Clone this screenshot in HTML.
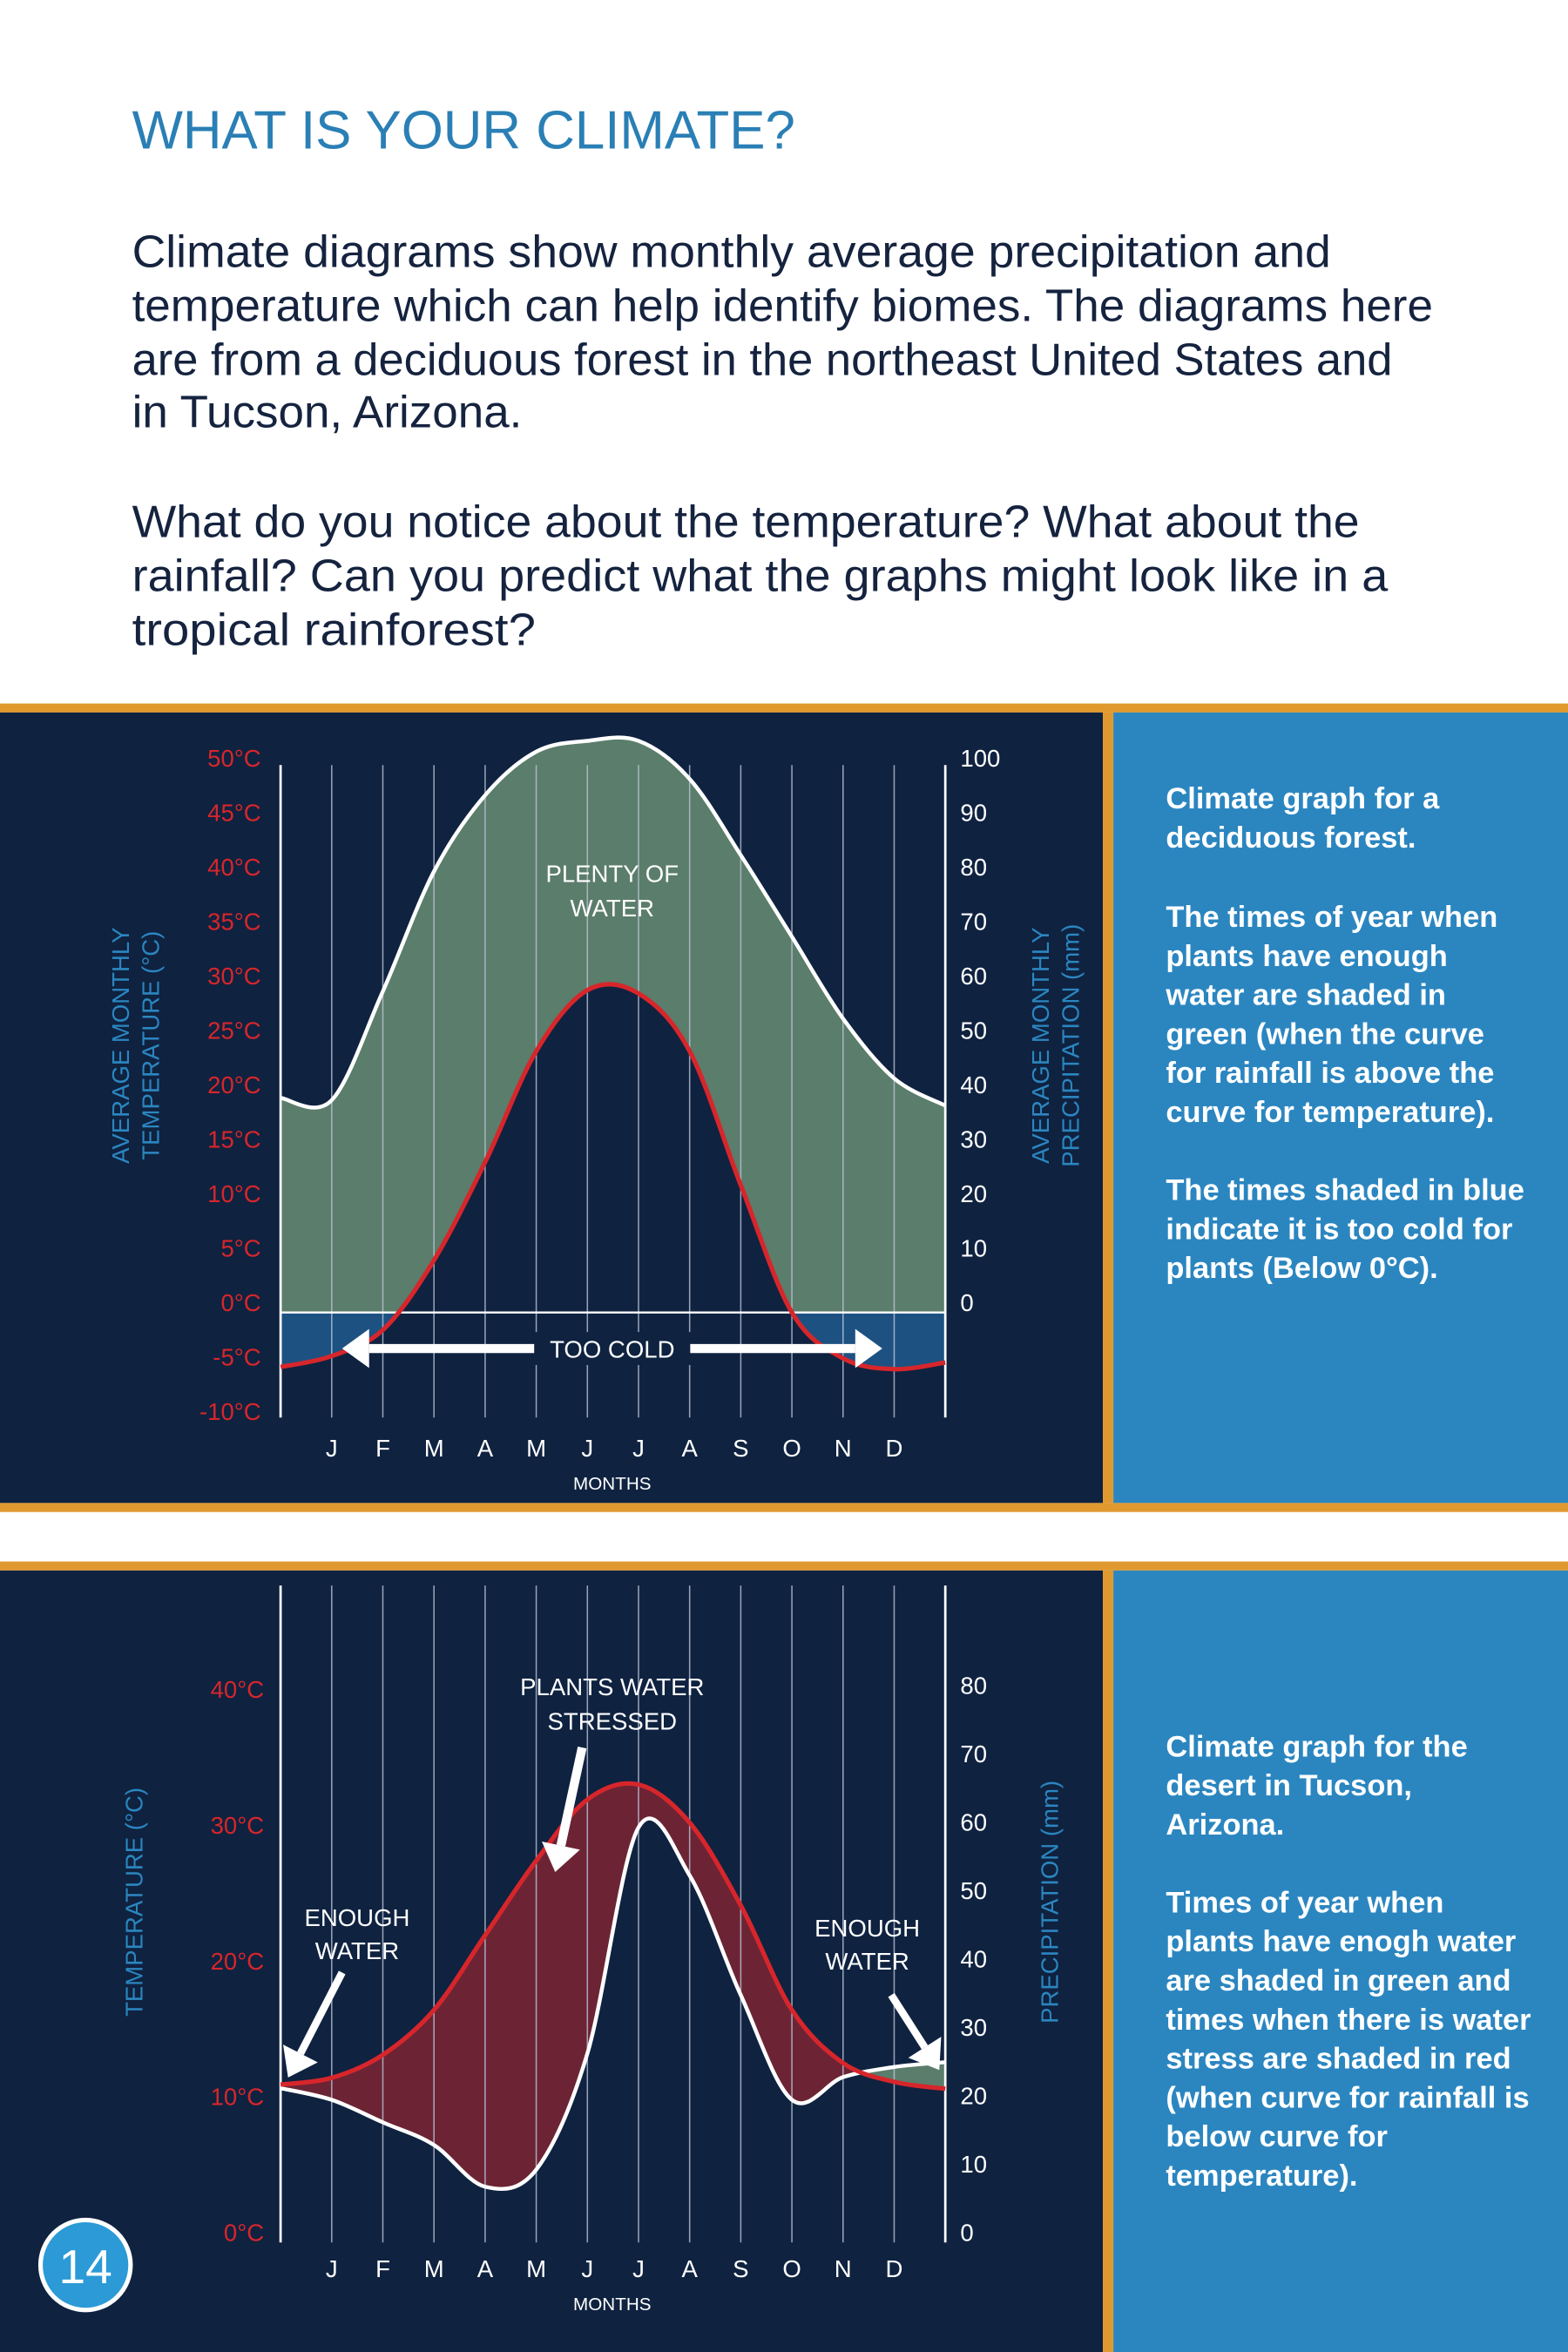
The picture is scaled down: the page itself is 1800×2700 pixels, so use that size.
<!DOCTYPE html>
<html><head><meta charset="utf-8"><style>
html,body{margin:0;padding:0;background:#fff;width:1800px;height:2700px;overflow:hidden;}
svg{display:block;}
text{font-family:"Liberation Sans","DejaVu Sans",sans-serif;}
</style></head><body>
<svg id="page" width="1800" height="2700" viewBox="0 0 1045 1568" preserveAspectRatio="none" xmlns="http://www.w3.org/2000/svg">
<rect x="0" y="0" width="1045" height="1568" fill="#ffffff"/>
<text x="88" y="99" font-size="36" fill="#2a7fb5" textLength="442" lengthAdjust="spacingAndGlyphs">WHAT IS YOUR CLIMATE?</text>
<g font-size="30" fill="#15233f">
<text x="88" y="178" textLength="799" lengthAdjust="spacingAndGlyphs">Climate diagrams show monthly average precipitation and</text>
<text x="88" y="214" textLength="867" lengthAdjust="spacingAndGlyphs">temperature which can help identify biomes. The diagrams here</text>
<text x="88" y="250" textLength="840" lengthAdjust="spacingAndGlyphs">are from a deciduous forest in the northeast United States and</text>
<text x="88" y="285" textLength="260" lengthAdjust="spacingAndGlyphs">in Tucson, Arizona.</text>
<text x="88" y="358" textLength="818" lengthAdjust="spacingAndGlyphs">What do you notice about the temperature? What about the</text>
<text x="88" y="394" textLength="837" lengthAdjust="spacingAndGlyphs">rainfall? Can you predict what the graphs might look like in a</text>
<text x="88" y="430" textLength="269" lengthAdjust="spacingAndGlyphs">tropical rainforest?</text>
</g>
<rect x="0" y="469" width="1045" height="6" fill="#e0992f"/>
<rect x="0" y="475" width="735" height="527" fill="#0f2240"/>
<rect x="735" y="475" width="7" height="527" fill="#e0992f"/>
<rect x="742" y="475" width="303" height="527" fill="#2b86c0"/>
<rect x="0" y="1002" width="1045" height="6" fill="#e0992f"/>
<rect x="0" y="1041" width="1045" height="6" fill="#e0992f"/>
<rect x="0" y="1047" width="735" height="521" fill="#0f2240"/>
<rect x="735" y="1047" width="7" height="521" fill="#e0992f"/>
<rect x="742" y="1047" width="303" height="521" fill="#2b86c0"/>

<g font-size="20" font-weight="bold" fill="#ffffff">
<text x="777" y="539">Climate graph for a</text>
<text x="777" y="565">deciduous forest.</text>
<text x="777" y="618">The times of year when</text>
<text x="777" y="644">plants have enough</text>
<text x="777" y="670">water are shaded in</text>
<text x="777" y="696">green (when the curve</text>
<text x="777" y="722">for rainfall is above the</text>
<text x="777" y="748">curve for temperature).</text>
<text x="777" y="800">The times shaded in blue</text>
<text x="777" y="826">indicate it is too cold for</text>
<text x="777" y="852">plants (Below 0°C).</text>
</g>
<g font-size="20" font-weight="bold" fill="#ffffff">
<text x="777" y="1171">Climate graph for the</text>
<text x="777" y="1197">desert in Tucson,</text>
<text x="777" y="1223">Arizona.</text>
<text x="777" y="1275">Times of year when</text>
<text x="777" y="1301">plants have enogh water</text>
<text x="777" y="1327">are shaded in green and</text>
<text x="777" y="1353">times when there is water</text>
<text x="777" y="1379">stress are shaded in red</text>
<text x="777" y="1405">(when curve for rainfall is</text>
<text x="777" y="1431">below curve for</text>
<text x="777" y="1457">temperature).</text>
</g>

<g id="chart1"></g>
<g id="chart2"></g>

<g>
<circle cx="57" cy="1510" r="30" fill="#2b9ad6" stroke="#ffffff" stroke-width="3"/>
<text x="57" y="1522" font-size="32" fill="#ffffff" text-anchor="middle">14</text>
</g>
</svg>
<script>
const months = ['J','F','M','A','M','J','J','A','S','O','N','D'];
// chart 1 (deciduous)
const c1Temp = [-4, -1.6, 4.8, 13.8, 24, 29.6, 29.3, 24, 11.7, 0, -4.2, -5.2];
const c1TempEdges = [-5, -4.6];
const c1Precip = [39, 59, 81, 95, 103, 105, 105, 98, 84, 69, 54, 43];
const c1PrecipEdges = [39.4, 38];
const c1TempTicks = [-10, -5, 0, 5, 10, 15, 20, 25, 30, 35, 40, 45, 50];
const c1PrecipTicks = [0, 10, 20, 30, 40, 50, 60, 70, 80, 90, 100];
// chart 2 (desert)
const c2Temp = [11.8, 13.5, 16.8, 22.3, 27.8, 32.3, 33.4, 30.6, 24.5, 16.8, 12.9, 11.5];
const c2TempEdges = [11.3, 11];
const c2Precip = [20.2, 16.9, 13.6, 7.5, 10, 27, 60, 53, 35.5, 20.2, 23.5, 25];
const c2PrecipEdges = [21.9, 25.7];
const c2TempTicks = [0, 10, 20, 30, 40];
const c2PrecipTicks = [0, 10, 20, 30, 40, 50, 60, 70, 80];

const NS = 'http://www.w3.org/2000/svg';
const X0 = 187, X1 = 630, STEP = (X1 - X0) / 13;
function xAt(i){ return X0 + STEP * (i + 1); }
function mk(parent, tag, attrs, txt){
  const e = document.createElementNS(NS, tag);
  for (const k in attrs) e.setAttribute(k, attrs[k]);
  if (txt !== undefined) e.textContent = txt;
  parent.appendChild(e);
  return e;
}
function pts(vals, edges, y){
  const p = [[X0, y(edges[0])]];
  vals.forEach((v,i)=>p.push([xAt(i), y(v)]));
  p.push([X1, y(edges[1])]);
  return p;
}
function smooth(p){
  let d = 'M' + p[0][0] + ',' + p[0][1];
  for (let i = 0; i < p.length - 1; i++){
    const a = p[Math.max(i-1,0)], b = p[i], c = p[i+1], e = p[Math.min(i+2,p.length-1)];
    const c1x = b[0] + (c[0]-a[0])/6, c1y = b[1] + (c[1]-a[1])/6;
    const c2x = c[0] - (e[0]-b[0])/6, c2y = c[1] - (e[1]-b[1])/6;
    d += ' C' + c1x.toFixed(1) + ',' + c1y.toFixed(1) + ' ' + c2x.toFixed(1) + ',' + c2y.toFixed(1) + ' ' + c[0].toFixed(1) + ',' + c[1].toFixed(1);
  }
  return d;
}
function arrow(g, x1, y1, x2, y2, w, name){
  const ang = Math.atan2(y2-y1, x2-x1), hl = 18, hw = 13;
  const bx = x2 - hl*Math.cos(ang), by = y2 - hl*Math.sin(ang);
  const l = mk(g, 'line', {x1:x1, y1:y1, x2:bx, y2:by, stroke:'#fff', 'stroke-width':w});
  
  
  const px = -Math.sin(ang)*hw, py = Math.cos(ang)*hw;
  const h = mk(g, 'polygon', {points: x2+','+y2+' '+(bx+px)+','+(by+py)+' '+(bx-px)+','+(by-py), fill:'#fff'});
  
  
}

function drawChart(g, id, o){
  const yT = t => o.zero - t * o.tScale;
  const yP = p => o.zero - p * o.pScale;
  const tPath = smooth(pts(o.temp, o.tempEdges, yT));
  const pPath = smooth(pts(o.precip, o.precipEdges, yP));
  const top = o.gridTop - 40, bot = o.zero + 200;
  const defs = mk(g, 'defs', {});
  const cpAboveT = mk(defs, 'clipPath', {id: id+'aboveT'});
  mk(cpAboveT, 'path', {d: tPath + ' L' + X1 + ',' + top + ' L' + X0 + ',' + top + ' Z'});
  const cpAboveP = mk(defs, 'clipPath', {id: id+'aboveP'});
  mk(cpAboveP, 'path', {d: pPath + ' L' + X1 + ',' + top + ' L' + X0 + ',' + top + ' Z'});

  const g1 = mk(g, 'path', {d: pPath + ' L' + X1 + ',' + o.zero + ' L' + X0 + ',' + o.zero + ' Z', fill:'#5b7d6b', 'clip-path':'url(#'+id+'aboveT)'});
  
  
  if (o.coldBand){
    const b = mk(g, 'rect', {x:X0, y:o.zero, width:X1-X0, height:yT(-10)-o.zero, fill:'#1d5182', 'clip-path':'url(#'+id+'aboveT)'});
    
    
  }
  if (o.stress){
    const r = mk(g, 'path', {d: tPath + ' L' + X1 + ',' + bot + ' L' + X0 + ',' + bot + ' Z', fill:'#6c2434', 'clip-path':'url(#'+id+'aboveP)'});
    
    
  }
  for (let k = 0; k <= 13; k++){
    const x = X0 + STEP*k, edge = (k===0||k===13);
    const l = mk(g, 'line', {x1:x, x2:x, y1:o.gridTop, y2:o.gridBot, stroke: edge ? '#ffffff' : '#b9c3d6', 'stroke-width': edge ? 1.6 : 0.9, opacity: edge?1:0.8});
    
    
  }
  if (o.zeroLine){
    const z = mk(g, 'line', {x1:X0, x2:X1, y1:o.zero, y2:o.zero, stroke:'#ffffff', 'stroke-width':1.4});
    
    
  }
  const pc = mk(g, 'path', {d:pPath, fill:'none', stroke:'#ffffff', 'stroke-width':2.6});
  
  
  const tc = mk(g, 'path', {d:tPath, fill:'none', stroke:'#d7262b', 'stroke-width':3});
  
  
  o.tTicks.forEach(t=>{
    const e = mk(g, 'text', {x:o.tLabelX, y:yT(t)+o.tLabelDy, 'font-size':16, fill:'#d7262b', 'text-anchor':'end'}, t + '°C');
    
    
  });
  o.pTicks.forEach(p=>{
    const e = mk(g, 'text', {x:640, y:yP(p)+o.pLabelDy, 'font-size':16, fill:'#ffffff'}, String(p));
    
    
  });
  months.forEach((m,i)=>{
    const e = mk(g, 'text', {x:xAt(i), y:o.monthY, 'font-size':16, fill:'#ffffff', 'text-anchor':'middle'}, m);
    
    
  });
  const mt = mk(g, 'text', {x:408, y:o.monthY+22, 'font-size':12, fill:'#ffffff', 'text-anchor':'middle'}, 'MONTHS');
  
  
  o.leftTitle.forEach((s,i)=>{
    const x = o.leftTitleX + i*20;
    const e = mk(g, 'text', {x:x, y:o.titleY, 'font-size':16, fill:'#2b86c0', 'text-anchor':'middle', transform:'rotate(-90 '+x+' '+o.titleY+')'}, s);
    
    
  });
  o.rightTitle.forEach((s,i)=>{
    const x = o.rightTitleX + i*20;
    const e = mk(g, 'text', {x:x, y:o.titleY, 'font-size':16, fill:'#2b86c0', 'text-anchor':'middle', transform:'rotate(-90 '+x+' '+o.titleY+')'}, s);
    
    
  });
}

const g1 = document.getElementById('chart1');
drawChart(g1, 'c1', {zero:875, tScale:7.26, pScale:3.63, temp:c1Temp, tempEdges:c1TempEdges, precip:c1Precip, precipEdges:c1PrecipEdges,
  gridTop:510, gridBot:945, coldBand:true, stress:false, zeroLine:true, tTicks:c1TempTicks, pTicks:c1PrecipTicks,
  tLabelX:174, tLabelDy:-1, pLabelDy:-1, monthY:971, leftTitle:['AVERAGE MONTHLY','TEMPERATURE (°C)'], leftTitleX:86,
  rightTitle:['AVERAGE MONTHLY','PRECIPITATION (mm)'], rightTitleX:699, titleY:697});
const g2 = document.getElementById('chart2');
drawChart(g2, 'c2', {zero:1492, tScale:9.05, pScale:4.56, temp:c2Temp, tempEdges:c2TempEdges, precip:c2Precip, precipEdges:c2PrecipEdges,
  gridTop:1057, gridBot:1495, coldBand:false, stress:true, zeroLine:false, tTicks:c2TempTicks, pTicks:c2PrecipTicks,
  tLabelX:176, tLabelDy:2, pLabelDy:2, monthY:1518, leftTitle:['TEMPERATURE (°C)'], leftTitleX:95,
  rightTitle:['PRECIPITATION (mm)'], rightTitleX:705, titleY:1268});

function label(g, x, y, s, name){
  const e = mk(g, 'text', {x:x, y:y, 'font-size':16, fill:'#ffffff', 'text-anchor':'middle'}, s);
  
  
}
label(g1, 408, 588, 'PLENTY OF', 'plenty-of-water-label');
label(g1, 408, 611, 'WATER', 'plenty-of-water-label');
mk(g1, 'rect', {x:355, y:888, width:106, height:22, fill:'#0f2240'});
label(g1, 408, 905, 'TOO COLD', 'too-cold-label');
arrow(g1, 356, 899, 228, 899, 6, 'too-cold-arrow-left');
arrow(g1, 460, 899, 588, 899, 6, 'too-cold-arrow-right');
label(g2, 408, 1130, 'PLANTS WATER', 'water-stressed-label');
label(g2, 408, 1153, 'STRESSED', 'water-stressed-label');
arrow(g2, 388, 1165, 370, 1248, 6, 'water-stressed-arrow');
label(g2, 238, 1284, 'ENOUGH', 'enough-water-left-label');
label(g2, 238, 1306, 'WATER', 'enough-water-left-label');
arrow(g2, 228, 1315, 192, 1385, 5, 'enough-water-left-arrow');
label(g2, 578, 1291, 'ENOUGH', 'enough-water-right-label');
label(g2, 578, 1313, 'WATER', 'enough-water-right-label');
arrow(g2, 594, 1330, 626, 1380, 5, 'enough-water-right-arrow');
</script>
</body></html>
